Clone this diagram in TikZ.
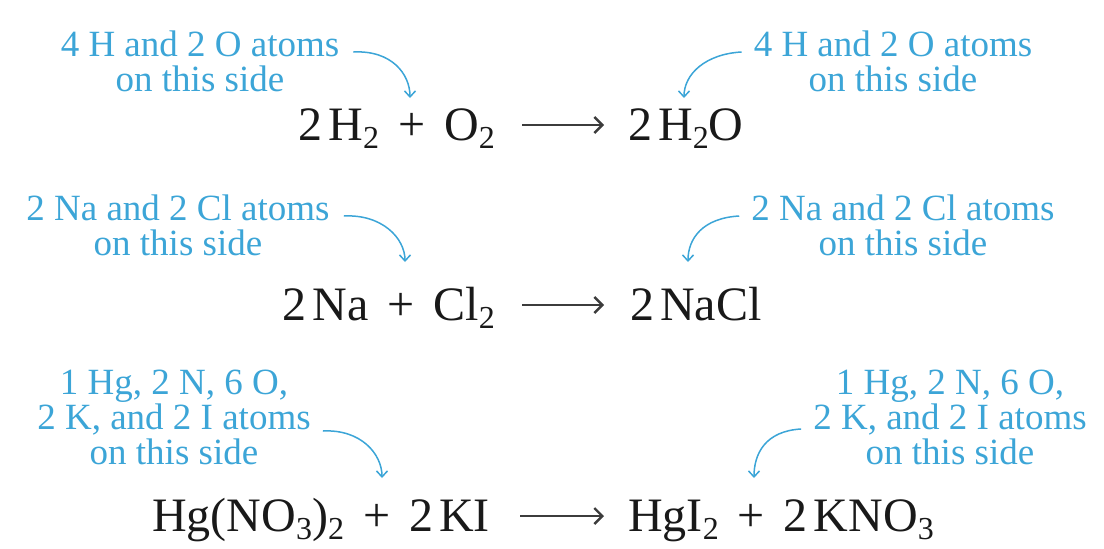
\documentclass[tikz,border=0pt]{standalone}
\usepackage{fontspec}
\setmainfont{Liberation Serif}
\usetikzlibrary{arrows.meta,calc}
\definecolor{lblue}{RGB}{60,165,215}
\definecolor{eqblack}{RGB}{25,25,25}
\newcommand{\chsub}[1]{\raisebox{-8pt}{\fontsize{32}{32}\selectfont #1}}
\newcommand{\pl}{\hspace{19pt}+\hspace{19pt}}
\begin{document}
\begin{tikzpicture}[x=1pt,y=-1pt,
  lab/.style={text=lblue, font=\fontsize{37}{35}\selectfont, align=center, inner sep=0pt, anchor=north},
  eq/.style={text=eqblack, font=\fontsize{48}{52}\selectfont, inner sep=0pt},
  pointer/.style={draw=lblue, line width=1.5pt, -{Straight Barb[length=6pt,width=11pt]}},
  yields/.style={draw=eqblack!85, line width=2.4pt, -{Straight Barb[length=8pt,width=16pt]}}]
\useasboundingbox (0,0) rectangle (1104,549);

% ---------- row 1 ----------
\node[lab] (l1) at (200,31) {4 H and 2 O atoms\\on this side};
\node[lab] (r1) at (893,31) {4 H and 2 O atoms\\on this side};
\node[eq, anchor=base east] (e1l) at (495,140) {2\kern6pt H\chsub{2}\pl O\chsub{2}};
\node[eq, anchor=base west] (e1r) at (628,140) {2\kern6pt H\chsub{2}O};
\draw[yields] ($(e1l.base east)+(27,-15)$) -- ($(e1r.base west)+(-24,-15)$);
\coordinate (t1l) at (410,98);
\coordinate (t1r) at (684,98);
\draw[pointer] ($(l1.north east)+(14,21)$) .. controls +(38,-2) and +(0,-24) .. (t1l);
\draw[pointer] ($(r1.north west)+(-12,21)$) .. controls +(-36,2) and +(0,-24) .. (t1r);

% ---------- row 2 ----------
\node[lab] (l2) at (178,195) {2 Na and 2 Cl atoms\\on this side};
\node[lab] (r2) at (903,195) {2 Na and 2 Cl atoms\\on this side};
\node[eq, anchor=base east] (e2l) at (495,320) {2\kern6pt Na\pl Cl\chsub{2}};
\node[eq, anchor=base west] (e2r) at (630,320) {2\kern6pt NaCl};
\draw[yields] ($(e2l.base east)+(27,-15)$) -- ($(e2r.base west)+(-26,-15)$);
\coordinate (t2l) at (405,262);
\coordinate (t2r) at (688,262);
\draw[pointer] ($(l2.north east)+(14,21)$) .. controls +(38,-2) and +(0,-24) .. (t2l);
\draw[pointer] ($(r2.north west)+(-12,21)$) .. controls +(-36,2) and +(0,-24) .. (t2r);

% ---------- row 3 ----------
\node[lab] (l3) at (174,370) {1 Hg, 2 N, 6 O,\\2 K, and 2 I atoms\\on this side};
\node[lab] (r3) at (950,370) {1 Hg, 2 N, 6 O,\\2 K, and 2 I atoms\\on this side};
\node[eq, anchor=base east] (e3l) at (490,531) {Hg(NO\chsub{3})\chsub{2}\pl 2\kern6pt KI};
\node[eq, anchor=base west] (e3r) at (628,531) {HgI\chsub{2}\pl 2\kern6pt KNO\chsub{3}};
\draw[yields] ($(e3l.base east)+(30,-15)$) -- ($(e3r.base west)+(-24,-15)$);
\coordinate (t3l) at (382,478);
\coordinate (t3r) at (754,478);
\draw[pointer] ($(l3.north east)+(12,61)$) .. controls +(38,-2) and +(0,-24) .. (t3l);
\draw[pointer] ($(r3.north west)+(-12,59)$) .. controls +(-36,2) and +(0,-24) .. (t3r);
\end{tikzpicture}
\end{document}
